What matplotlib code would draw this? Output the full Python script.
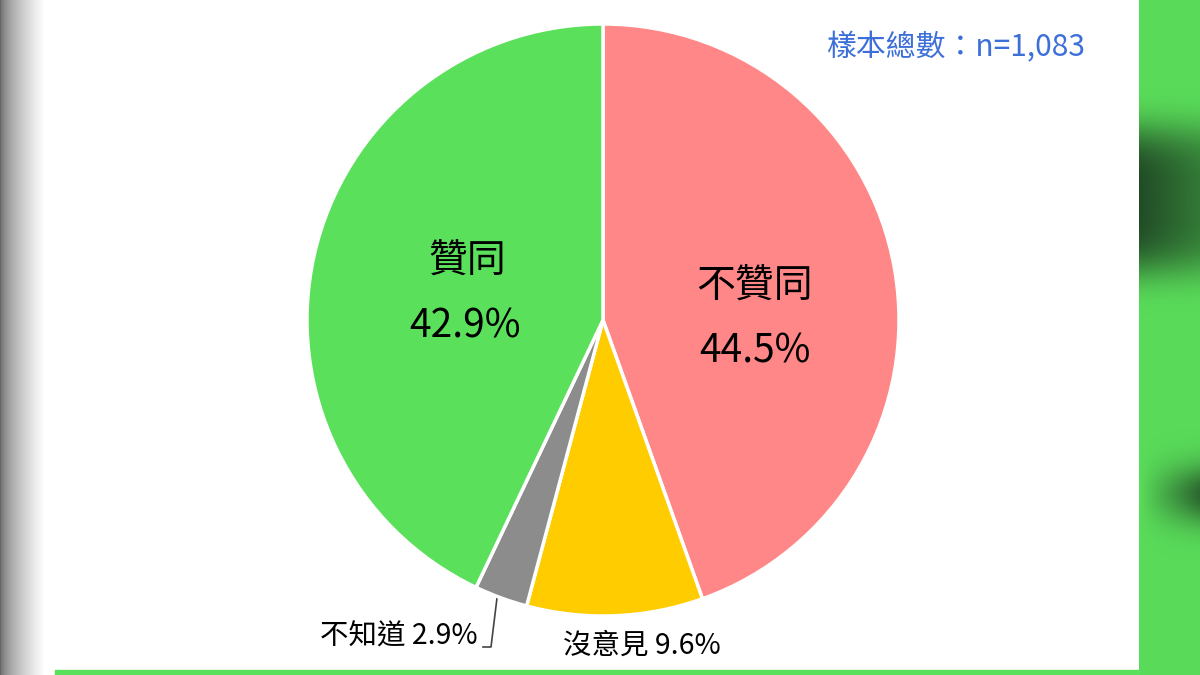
import numpy as np
import matplotlib

matplotlib.use("Agg")
import matplotlib.pyplot as plt

plt.rcParams["font.family"] = ["Noto Sans CJK TC", "DejaVu Sans"]

# survey result
LABELS = ["不贊同", "沒意見", "不知道", "贊同"]
SHARES = [44.5, 9.6, 2.9, 42.9]
COLORS = ["#FF8787", "#FFCC00", "#8C8C8C", "#5BE05B"]
SAMPLE_NOTE = "樣本總數：n=1,083"

W, H = 1200, 675
fig = plt.figure(figsize=(W / 100, H / 100), dpi=100)

# backdrop: blurred video frame around the white panel
bg = fig.add_axes((0, 0, 1, 1))
bg.set_xlim(0, W)
bg.set_ylim(H, 0)
bg.axis("off")
bg.add_patch(plt.Rectangle((0, 0), W, H, color="white", zorder=0))
xs = np.linspace(0, 1, 60)
left = 0.4 + 0.6 * np.clip(xs / 0.75, 0, 1) ** 0.6
bg.imshow(np.tile(left, (10, 1)), cmap="gray", vmin=0, vmax=1,
          extent=(0, 60, H, 0), aspect="auto", zorder=1)
ys = np.linspace(0, H, 300)[:, None]
cols = np.linspace(0, 1, 20)[None, :]
dark = (np.exp(-((ys - 200) / 75) ** 4) * (1 - 0.3 * cols)
        + 0.8 * np.exp(-((ys - 495) / 30) ** 2) * cols)
dark = dark.clip(0, 1)[:, :, None]
green = np.array([0.35, 0.86, 0.35])
deep = np.array([0.13, 0.30, 0.15])
strip = (1 - dark) * green + dark * deep
bg.imshow(strip, extent=(1139, W, H, 0), aspect="auto", zorder=1)
bg.add_patch(plt.Rectangle((55, 670), 1084, 5, color="#5BE05B", zorder=2))

# pie
cx, cy, r = 603, 320, 296
ax = fig.add_axes(((cx - r) / W, (H - cy - r) / H, 2 * r / W, 2 * r / H))
ax.pie(SHARES, colors=COLORS, startangle=90, counterclock=False,
       wedgeprops=dict(edgecolor="white", linewidth=2.5))
ax.set_xlim(-1, 1)
ax.set_ylim(-1, 1)
ax.set_aspect("equal")


def px(x, y):
    return x / W, 1 - y / H


big = dict(fontsize=28, color="black", ha="center", va="center")
fig.text(*px(467, 262), LABELS[3], **big)
fig.text(*px(465, 327), f"{SHARES[3]}%", **big)
fig.text(*px(755, 287), LABELS[0], **big)
fig.text(*px(755, 352), f"{SHARES[0]}%", **big)

small = dict(fontsize=20.5, color="black", va="center")
fig.text(*px(320, 637), f"{LABELS[2]} {SHARES[2]}%", ha="left", **small)
fig.text(*px(563, 646), f"{LABELS[1]} {SHARES[1]}%", ha="left", **small)
bg.plot([497, 491, 483], [598, 647, 647], color="#444444", lw=1.2, zorder=3)

fig.text(*px(1085, 48), SAMPLE_NOTE, fontsize=21.5, color="#3D6FD9",
         ha="right", va="center")

fig.savefig("out.png", dpi=100)
